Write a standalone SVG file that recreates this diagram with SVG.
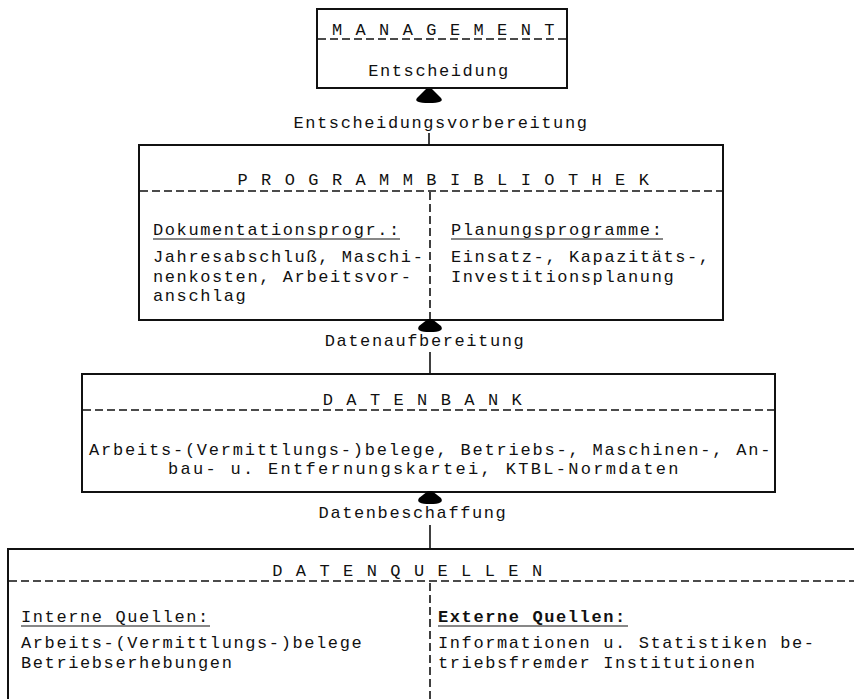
<svg xmlns="http://www.w3.org/2000/svg" width="854" height="699" viewBox="0 0 854 699">
<style>
text{font-family:"Liberation Mono","DejaVu Sans Mono",monospace;font-size:17px;letter-spacing:1.6px;fill:#111}
.c{text-anchor:middle}
.box{fill:none;stroke:#111;stroke-width:2}
.dash{stroke:#111;stroke-width:1.6;stroke-dasharray:8 4;fill:none}
.ul{stroke:#111;stroke-width:1.2}
.ln{stroke:#111;stroke-width:1.6;fill:none}
.ah{fill:#000}
.b{font-weight:bold}
</style>
<rect width="854" height="699" fill="#fff"/>
<g id="management">
<rect class="box" x="317" y="9" width="250" height="79"/>
<line class="dash" x1="318" y1="39" x2="566" y2="39"/>
<text class="c" x="444" y="35">M A N A G E M E N T</text>
<text class="c" x="439" y="76">Entscheidung</text>
</g>
<g id="programmbibliothek">
<rect class="box" x="139" y="145" width="584" height="175"/>
<line class="dash" x1="140" y1="191" x2="722" y2="191"/>
<text class="c" x="444" y="185">P R O G R A M M B I B L I O T H E K</text>
<line class="dash" x1="430" y1="192" x2="430" y2="319"/>
<text x="153" y="235">Dokumentationsprogr.:</text>
<line class="ul" x1="153" y1="239" x2="400" y2="239"/>
<text x="153" y="262">Jahresabschluß, Maschi-</text>
<text x="153" y="281.5">nenkosten, Arbeitsvor-</text>
<text x="153" y="301">anschlag</text>
<text x="451" y="235">Planungsprogramme:</text>
<line class="ul" x1="451" y1="239" x2="663" y2="239"/>
<text x="451" y="262">Einsatz-, Kapazitäts-,</text>
<text x="451" y="281.5">Investitionsplanung</text>
</g>
<g id="datenbank">
<rect class="box" x="82" y="374" width="693" height="118"/>
<line class="dash" x1="83" y1="410" x2="774" y2="410"/>
<text class="c" x="423" y="405">D A T E N B A N K</text>
<text x="89" y="455" textLength="683">Arbeits-(Vermittlungs-)belege, Betriebs-, Maschinen-, An-</text>
<text x="168" y="474" textLength="512">bau- u. Entfernungskartei, KTBL-Normdaten</text>
</g>
<g id="datenquellen">
<path class="box" d="M854 549 H8 V699"/>
<line class="dash" x1="9" y1="581" x2="854" y2="581"/>
<text class="c" x="408" y="576">D A T E N Q U E L L E N</text>
<line class="dash" x1="430" y1="583" x2="430" y2="699"/>
<text x="21" y="622">Interne Quellen:</text>
<line class="ul" x1="21" y1="626" x2="210" y2="626"/>
<text x="21" y="648">Arbeits-(Vermittlungs-)belege</text>
<text x="21" y="668">Betriebserhebungen</text>
<text class="b" x="438" y="622">Externe Quellen:</text>
<line class="ul" x1="438" y1="626" x2="628" y2="626"/>
<text x="438" y="648">Informationen u. Statistiken be-</text>
<text x="438" y="668">triebsfremder Institutionen</text>
</g>
<g id="connectors">
<path class="ah" d="M426 89 H432 L441 98 Q445 103 429 103 Q413 103 417 98 Z"/>
<text class="c" x="441" y="128">Entscheidungsvorbereitung</text>
<line class="ln" x1="429" y1="133" x2="429" y2="145"/>
<path class="ah" d="M428 319 H432 L441 326 Q445 332 430 332 Q415 332 419 326 Z"/>
<text class="c" x="425" y="346">Datenaufbereitung</text>
<line class="ln" x1="430" y1="352" x2="430" y2="374"/>
<path class="ah" d="M428 491 H432 L441 498 Q445 504 430 504 Q415 504 419 498 Z"/>
<text class="c" x="413" y="518">Datenbeschaffung</text>
<line class="ln" x1="430" y1="525" x2="430" y2="549"/>
</g>
</svg>
